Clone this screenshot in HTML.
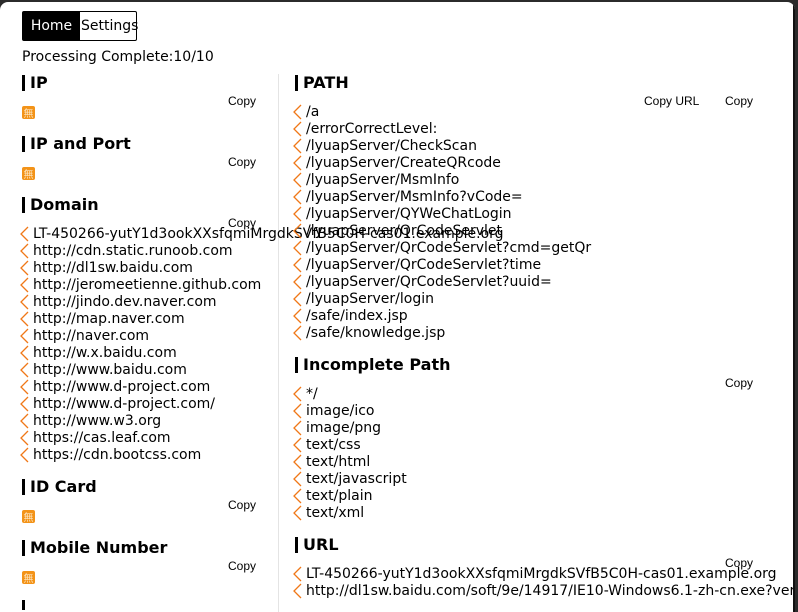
<!DOCTYPE html>
<html><head><meta charset="utf-8"><style>
html,body{margin:0;padding:0;width:798px;height:601px;overflow:hidden;background:#2b2b2b;}
#p{position:absolute;left:0;top:2px;width:795px;height:610px;background:#fff;border-radius:8px 8px 0 0;overflow:hidden;font-family:"DejaVu Sans","Liberation Sans",sans-serif;color:#000;}
.a{position:absolute;white-space:nowrap;font-size:14px;line-height:17px;}
.h{position:absolute;white-space:nowrap;font-size:16px;font-weight:bold;line-height:20px;padding-left:8px;}
.h:before{content:"";position:absolute;left:0;top:2px;width:3px;height:16px;background:#000;}
.c{position:absolute;white-space:nowrap;font-family:"Liberation Sans",sans-serif;font-size:12px;line-height:14px;}
.i{position:absolute;width:13px;height:13px;background:#f39318;border-radius:2px;color:#fde5c0;font-size:10px;line-height:13px;text-align:center;font-family:"Noto Sans CJK SC",sans-serif;}
.v{position:absolute;width:10px;height:16px;}
</style></head><body><div id="p">
<div style="position:absolute;left:22px;top:9px;width:113px;height:28px;border:1px solid #000;border-radius:2px;font-size:14px;line-height:28px;">
<span style="position:absolute;left:0;top:0;width:57px;height:28px;background:#000;color:#fff;text-align:center;">Home</span>
<span style="position:absolute;left:58px;top:0;">Settings</span></div>
<div class="a" style="left:22px;top:47px;">Processing Complete:10/10</div>
<div style="position:absolute;left:278px;top:72px;width:1px;height:540px;background:#e4e4e4;"></div>

<div class="h" style="left:22px;top:71px;">IP</div>
<div class="c" style="left:228px;top:92px;">Copy</div>
<div class="i" style="left:22px;top:104px;">無</div>
<div class="h" style="left:22px;top:132px;">IP and Port</div>
<div class="c" style="left:228px;top:153px;">Copy</div>
<div class="i" style="left:22px;top:165px;">無</div>
<div class="h" style="left:22px;top:193px;">Domain</div>
<div class="c" style="left:228px;top:214px;">Copy</div>
<div class="h" style="left:22px;top:475px;">ID Card</div>
<div class="c" style="left:228px;top:496px;">Copy</div>
<div class="i" style="left:22px;top:508px;">無</div>
<div class="h" style="left:22px;top:536px;">Mobile Number</div>
<div class="c" style="left:228px;top:557px;">Copy</div>
<div class="i" style="left:22px;top:569px;">無</div>
<div style="position:absolute;left:22px;top:598px;width:3px;height:10px;background:#000;"></div>

<div class="h" style="left:295px;top:71px;">PATH</div>
<div class="c" style="left:644px;top:92px;">Copy URL</div>
<div class="c" style="left:725px;top:92px;">Copy</div>
<div class="h" style="left:295px;top:353px;">Incomplete Path</div>
<div class="c" style="left:725px;top:374px;">Copy</div>
<div class="h" style="left:295px;top:533px;">URL</div>
<div class="c" style="left:725px;top:554px;">Copy</div>

<div id="L"></div>
<div style="position:absolute;left:793px;top:0;width:2px;height:610px;background:#111;"></div>
<script>
var out='';
function list(x,y0,items){items.forEach(function(t,k){var c=y0+17*k-1;
out+='<svg class="v" style="left:'+(x-14)+'px;top:'+(c-8)+'px" viewBox="0 0 10 16"><polyline points="9,1 2,8 9,15" fill="none" stroke="#f07818" stroke-width="1.3"/></svg>';
out+='<div class="a" style="left:'+x+'px;top:'+(c-8.5)+'px">'+t+'</div>';});}
list(33,233,["LT-450266-yutY1d3ookXXsfqmiMrgdkSVfB5C0H-cas01.example.org","http://cdn.static.runoob.com","http://dl1sw.baidu.com","http://jeromeetienne.github.com","http://jindo.dev.naver.com","http://map.naver.com","http://naver.com","http://w.x.baidu.com","http://www.baidu.com","http://www.d-project.com","http://www.d-project.com/","http://www.w3.org","https://cas.leaf.com","https://cdn.bootcss.com"]);
list(306,111,["/a","/errorCorrectLevel:","/lyuapServer/CheckScan","/lyuapServer/CreateQRcode","/lyuapServer/MsmInfo","/lyuapServer/MsmInfo?vCode=","/lyuapServer/QYWeChatLogin","/lyuapServer/QrCodeServlet","/lyuapServer/QrCodeServlet?cmd=getQr","/lyuapServer/QrCodeServlet?time","/lyuapServer/QrCodeServlet?uuid=","/lyuapServer/login","/safe/index.jsp","/safe/knowledge.jsp"]);
list(306,393,["*/","image/ico","image/png","text/css","text/html","text/javascript","text/plain","text/xml"]);
list(306,573,["LT-450266-yutY1d3ookXXsfqmiMrgdkSVfB5C0H-cas01.example.org","http://dl1sw.baidu.com/soft/9e/14917/IE10-Windows6.1-zh-cn.exe?version"]);
document.getElementById('L').innerHTML=out;
</script>
</div></body></html>
